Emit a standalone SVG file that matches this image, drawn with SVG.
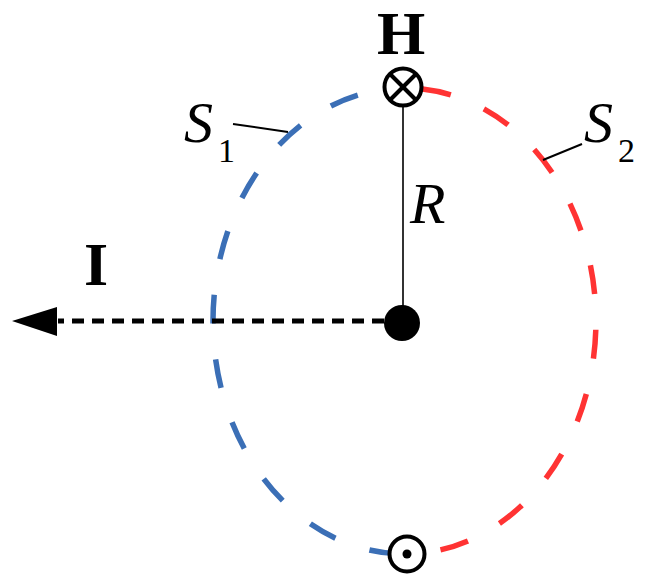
<svg xmlns="http://www.w3.org/2000/svg" width="651" height="587" viewBox="0 0 651 587">
<defs>
<style>
.t{font-family:"Liberation Serif","Times New Roman",serif;fill:#000}
.b{font-weight:bold;font-size:62px}
.i{font-style:italic;font-size:58px}
.sub{font-size:34px}
.lead{stroke:#000;stroke-width:2;fill:none}
.s1{stroke:#3B6FB6;stroke-width:5.5;fill:none;stroke-dasharray:29 36}
.s2{stroke:#FF3333;stroke-width:5.5;fill:none;stroke-dasharray:29 36}
</style>
</defs>
<rect width="651" height="587" fill="#fff"/>
<g id="connectors">
<path id="S1-curve" class="s1" d="M403,88 A192,233 0 0 0 407,554" stroke-dashoffset="19"/>
<path id="S2-curve" class="s2" d="M403,88 A191,233 0 0 1 407,554" stroke-dashoffset="45.5"/>
<line id="radius" x1="403" y1="105" x2="403" y2="322" stroke="#333" stroke-width="2"/>
<line id="current" x1="384" y1="321" x2="58" y2="321" stroke="#000" stroke-width="5" stroke-dasharray="12 8"/>
<path id="arrowhead" d="M12,321 L57,307 L57,336 Z" fill="#000"/>
<line class="lead" x1="233" y1="124" x2="288" y2="132"/>
<line class="lead" x1="543" y1="160" x2="582" y2="144"/>
</g>
<g id="H-node">
<circle cx="403" cy="87" r="18.5" fill="#fff" stroke="#000" stroke-width="4"/>
<line x1="390" y1="74" x2="416" y2="100" stroke="#000" stroke-width="4"/>
<line x1="416" y1="74" x2="390" y2="100" stroke="#000" stroke-width="4"/>
</g>
<g id="bottom-node">
<circle cx="407" cy="554" r="17.5" fill="#fff" stroke="#000" stroke-width="4"/>
<circle cx="407" cy="554" r="4.5" fill="#000"/>
</g>
<g id="center-node">
<circle cx="402" cy="323" r="18" fill="#000"/>
</g>
<g id="labels">
<text class="t b" x="401" y="54" text-anchor="middle">H</text>
<text class="t b" x="96" y="285" text-anchor="middle">I</text>
<text class="t i" x="410" y="223">R</text>
<text class="t i" x="184" y="142">S</text>
<text class="t sub" x="218" y="162">1</text>
<text class="t i" x="584" y="142">S</text>
<text class="t sub" x="618" y="162">2</text>
</g>
</svg>
